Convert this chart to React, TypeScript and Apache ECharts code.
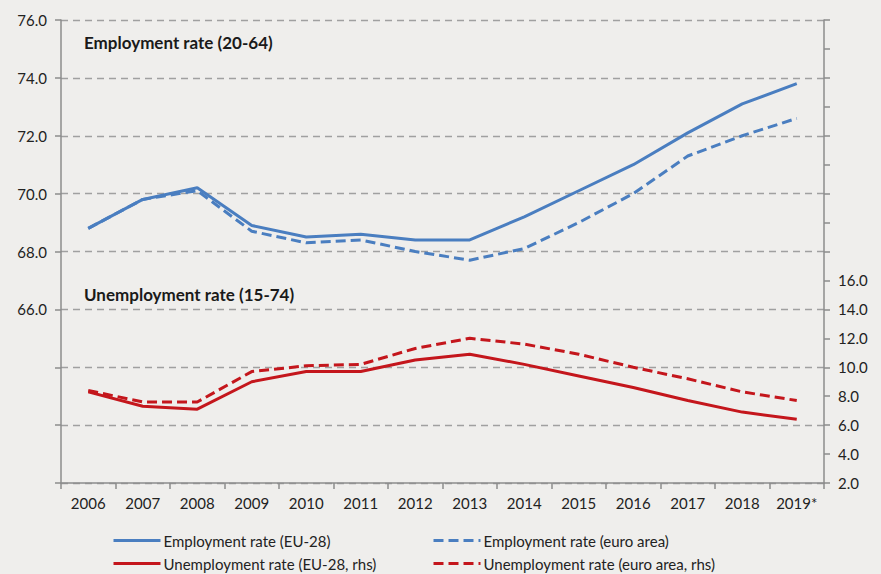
import React, { useEffect, useRef } from "react";
import * as echarts from "echarts";

const years = ["2006", "2007", "2008", "2009", "2010", "2011", "2012", "2013", "2014", "2015", "2016", "2017", "2018", "2019*"];
const empEU28 = [68.8, 69.8, 70.2, 68.9, 68.5, 68.6, 68.4, 68.4, 69.2, 70.1, 71.0, 72.1, 73.1, 73.8];
const empEA = [68.8, 69.8, 70.1, 68.7, 68.3, 68.4, 68.0, 67.7, 68.1, 69.0, 70.0, 71.3, 72.0, 72.6];
const unempEU28 = [8.3, 7.3, 7.1, 9.0, 9.7, 9.7, 10.5, 10.9, 10.2, 9.4, 8.6, 7.7, 6.9, 6.4];
const unempEA = [8.4, 7.6, 7.6, 9.7, 10.1, 10.2, 11.3, 12.0, 11.6, 10.9, 10.0, 9.2, 8.3, 7.7];
const names = [
  "Employment rate (EU-28)",
  "Employment rate (euro area)",
  "Unemployment rate (EU-28, rhs)",
  "Unemployment rate (euro area, rhs)",
];
const annotations = ["Employment rate (20-64)", "Unemployment rate (15-74)"];

const BLUE = "#4a7ec0";
const RED = "#c4161c";
const FONT = "Lato";

export default function App() {
  const ref = useRef<HTMLDivElement>(null);
  useEffect(() => {
    if (!ref.current) return;
    const chart = echarts.init(ref.current, null, { renderer: "svg" });
    const axisLine = { show: true, lineStyle: { color: "#8c8c8c", width: 1.5 } };
    const legendPos = [
      { left: 112, top: 533 },
      { left: 432, top: 533 },
      { left: 112, top: 556 },
      { left: 432, top: 556 },
    ];
    const legends = names.map((n, i) => ({
      data: [n],
      left: legendPos[i].left,
      top: legendPos[i].top,
      padding: 0,
      itemWidth: 47,
      itemHeight: 14,
      itemStyle: { opacity: 0 },
      lineStyle: { width: 3 },
      textStyle: { fontFamily: FONT, fontSize: 15, color: "#222", padding: [0, 0, 0, -2] },
    }));
    chart.setOption({
      animation: false,
      backgroundColor: "#efeeec",
      textStyle: { fontFamily: FONT },
      grid: { left: 61, right: 57, top: 20, bottom: 91, containLabel: false },
      legend: legends,
      xAxis: {
        type: "category",
        data: years,
        boundaryGap: true,
        axisLine,
        axisTick: { show: true, length: 6, lineStyle: { color: "#8c8c8c", width: 1.5 } },
        axisLabel: { fontFamily: FONT, fontSize: 15, color: "#222", margin: 12 },
      },
      yAxis: [
        {
          type: "value",
          min: 60,
          max: 76,
          interval: 2,
          axisLine,
          axisTick: { show: true, length: 6, lineStyle: { color: "#8c8c8c", width: 1.5 } },
          axisLabel: {
            fontFamily: FONT,
            fontSize: 15,
            color: "#222",
            margin: 14,
            formatter: (v: number) => (v >= 66 ? v.toFixed(1) : ""),
          },
          splitLine: { show: true, lineStyle: { color: "#a0a0a0", type: [7, 5], width: 1.3 } },
        },
        {
          type: "value",
          min: 2,
          max: 34,
          interval: 2,
          position: "right",
          axisLine,
          axisTick: { show: true, length: 6, lineStyle: { color: "#8c8c8c", width: 1.5 } },
          axisLabel: {
            fontFamily: FONT,
            fontSize: 15,
            color: "#222",
            margin: 14,
            formatter: (v: number) => (v <= 16 ? v.toFixed(1) : ""),
          },
          splitLine: { show: false },
        },
      ],
      series: [
        {
          name: names[0],
          type: "line",
          data: empEU28,
          yAxisIndex: 0,
          symbol: "none",
          lineStyle: { color: BLUE, width: 3 },
          itemStyle: { color: BLUE },
        },
        {
          name: names[1],
          type: "line",
          data: empEA,
          yAxisIndex: 0,
          symbol: "none",
          lineStyle: { color: BLUE, width: 3, type: [10, 5] },
          itemStyle: { color: BLUE },
        },
        {
          name: names[2],
          type: "line",
          data: unempEU28,
          yAxisIndex: 1,
          symbol: "none",
          lineStyle: { color: RED, width: 3 },
          itemStyle: { color: RED },
        },
        {
          name: names[3],
          type: "line",
          data: unempEA,
          yAxisIndex: 1,
          symbol: "none",
          lineStyle: { color: RED, width: 3, type: [10, 5] },
          itemStyle: { color: RED },
        },
      ],
      graphic: [
        {
          type: "text",
          left: 84,
          top: 34,
          style: { text: annotations[0], font: `bold 17px ${FONT}`, fill: "#1a1a1a" },
        },
        {
          type: "text",
          left: 84,
          top: 286,
          style: { text: annotations[1], font: `bold 17px ${FONT}`, fill: "#1a1a1a" },
        },
      ],
    });
    return () => chart.dispose();
  }, []);
  return <div ref={ref} style={{ width: 881, height: 574, position: "absolute", left: 0, top: 0 }} />;
}
